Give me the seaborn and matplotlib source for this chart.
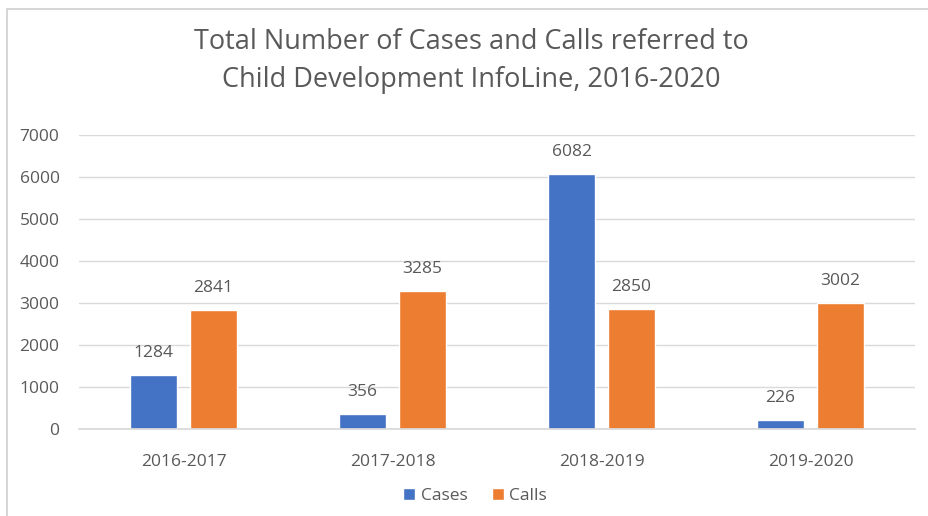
import matplotlib
matplotlib.use("Agg")
import matplotlib.pyplot as plt
import seaborn as sns
import pandas as pd
from matplotlib.patches import Rectangle

periods = ["2016-2017", "2017-2018", "2018-2019", "2019-2020"]
cases = [1284, 356, 6082, 226]
calls = [2841, 3285, 2850, 3002]
series_names = ["Cases", "Calls"]
y_ticks = [0, 1000, 2000, 3000, 4000, 5000, 6000, 7000]

df = pd.DataFrame({
    "period": periods * 2,
    "series": [series_names[0]] * len(periods) + [series_names[1]] * len(periods),
    "value": cases + calls,
})

sns.set_theme(style="white")
plt.rcParams["font.family"] = ["Open Sans", "DejaVu Sans"]
text_color = "#595959"
label_size = 12.5

fig = plt.figure(figsize=(9.29, 5.16), dpi=100)
ax = fig.add_axes([79 / 929, 1 - 429 / 516, (915 - 79) / 929, (429 - 135) / 516])

sns.barplot(data=df, x="period", y="value", hue="series", ax=ax,
            palette=["#4472C4", "#ED7D31"], width=0.574, gap=0.217,
            saturation=1, legend=True)

ax.set_ylim(0, 7000)
ax.set_xlim(-0.5, 3.5)
ax.set_yticks(y_ticks)
ax.set_yticklabels([str(t) for t in y_ticks])
ax.set_xlabel("")
ax.set_ylabel("")
ax.yaxis.grid(True, color="#D9D9D9", linewidth=1)
ax.set_axisbelow(True)
for s in ["top", "right", "left"]:
    ax.spines[s].set_visible(False)
ax.spines["bottom"].set_color("#D9D9D9")
ax.tick_params(axis="both", length=0, labelsize=label_size, labelcolor=text_color)
ax.tick_params(axis="x", pad=18)
ax.tick_params(axis="y", pad=14)

for cont in ax.containers:
    ax.bar_label(cont, fmt="%d", padding=10, fontsize=label_size, color=text_color)

handles, labels = ax.get_legend_handles_labels()
ax.legend(handles, labels, loc="center", bbox_to_anchor=(475 / 929, 1 - 496 / 516),
          bbox_transform=fig.transFigure, ncol=2, frameon=False, fontsize=label_size,
          handlelength=0.7, handleheight=0.7, columnspacing=1.4, handletextpad=0.3,
          labelcolor=text_color)

fig.text(471 / 929, 1 - 61 / 516,
         "Total Number of Cases and Calls referred to\nChild Development InfoLine, 2016-2020",
         ha="center", va="center", fontsize=19.5, color=text_color, linespacing=1.5)

# chart frame
fig.patches.append(Rectangle((7 / 929, -0.05), 1.2, 1 - 9 / 516 + 0.05,
                             transform=fig.transFigure, fill=False,
                             edgecolor="#D0D0D0", linewidth=1.2))

fig.savefig("out.png", dpi=100, facecolor="white")
